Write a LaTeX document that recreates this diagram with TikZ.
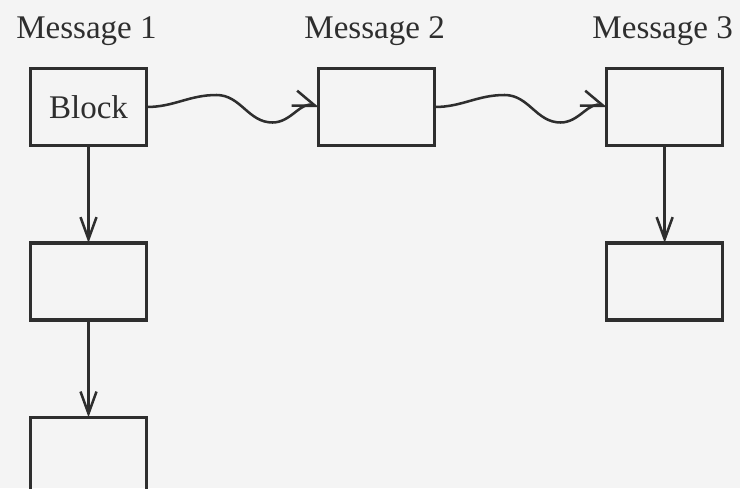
\documentclass[tikz,border=0pt]{standalone}
\usepackage{fontspec}
\setmainfont{Liberation Serif}
\usetikzlibrary{arrows.meta,positioning,calc}
\definecolor{scanink}{HTML}{2E2E2E}
\definecolor{scanpaper}{HTML}{F4F4F4}
\tikzset{
  msgbox/.style={draw=scanink,line width=2.4pt,minimum width=2.9cm,minimum height=1.93cm,inner sep=0pt,outer sep=0pt,text=scanink},
  msglabel/.style={anchor=base,text=scanink},
  ar/.style={-{Straight Barb[length=5.5mm,width=4mm]},draw=scanink,line width=1.8pt},
}

\begin{document}
\begin{tikzpicture}[x=0.025cm,y=-0.025cm,font=\fontsize{23.5}{27}\selectfont,node distance=2.43cm and 4.3cm]
    \fill[scanpaper] (0,0) rectangle (740,488);
    \clip (0,0) rectangle (740,488);
    % top row, one box per message
    \node[msgbox] (m1) at (88.5,107) {Block};
    \node[msgbox,right=of m1] (m2) {};
    \node[msgbox,right=of m2] (m3) {};
    % blocks below
    \node[msgbox,below=of m1] (m1a) {};
    \node[msgbox,below=of m1a] (m1b) {};
    \node[msgbox,below=of m3] (m3a) {};
    \foreach \m/\n in {m1/1,m2/2,m3/3}
      \node[msglabel] (l\n) at ($(\m.north)+(-2,-30)$) {Message \n};
    % wavy links between messages
    \foreach \s/\t in {m1/m2,m2/m3}
      \draw[ar] (\s.east) to[out=0,in=180] ($(\s.east)+(70,-12)$) to[out=0,in=180] ($(\s.east)+(126,15.5)$) to[out=0,in=160] (\t.west);
    \draw[ar] (m1) -- (m1a);
    \draw[ar] (m1a) -- (m1b);
    \draw[ar] (m3) -- (m3a);
\end{tikzpicture}
\end{document}
